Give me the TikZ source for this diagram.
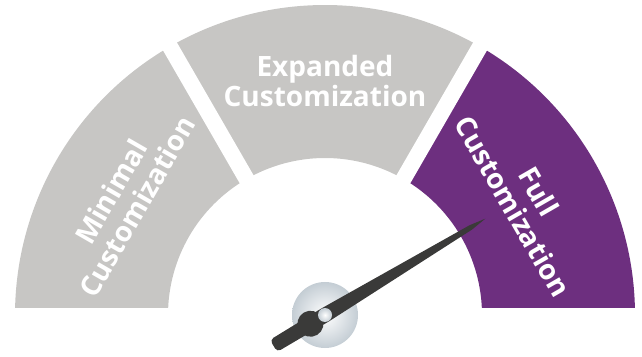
\documentclass[tikz,border=0pt]{standalone}
\usepackage{fontspec}
\setmainfont{Open Sans}
\usepackage{tikz}
\usetikzlibrary{calc}
\definecolor{gr}{RGB}{199,198,196}
\definecolor{pu}{RGB}{109,47,127}
\definecolor{nd}{RGB}{58,58,57}
\definecolor{hb}{RGB}{196,205,212}
\tikzset{lbl/.style={text=white, align=center, font=\fontsize{28}{30}\selectfont\bfseries}}

\begin{document}
\begin{tikzpicture}[x=1pt,y=1pt]
\useasboundingbox (0,0) rectangle (642,356);
\begin{scope}[shift={(325,41)}]
\begin{scope}
\clip (-325,7.5) rectangle (317,315);
\foreach \a/\b/\c in {0/60/pu, 60/120/gr, 120/180/gr}{
\fill[\c] (\a:310) arc[start angle=\a, end angle=\b, radius=310] -- (\b:157) arc[start angle=\b, end angle=\a, radius=157] -- cycle;
}
\foreach \a in {60,120}{
\draw[white, line width=16] (0,0) -- (\a:330);
}
\end{scope}
\node[lbl, rotate=60] (minimal) at (150:232) {Minimal\\Customization};
\node[lbl] (expanded) at (90:234) {Expanded\\Customization};
\node[lbl, rotate=-60] (full) at (30:232) {Full\\Customization};
\shade[inner color=white, outer color=hb] (0,0) circle[radius=33];
\begin{scope}[rotate=31]
\fill[nd, rounded corners=4] (0,-7.5) -- (-60,-7) -- (-60,7) -- (0,7.5) [sharp corners] -- (170,2.5) -- (187,0) -- (170,-2.5) -- cycle;
\fill[nd] (-17,0) circle[radius=13];
\end{scope}
\shade[inner color=white, outer color=hb] (0,0) circle[radius=7];
\end{scope}
\end{tikzpicture}
\end{document}
